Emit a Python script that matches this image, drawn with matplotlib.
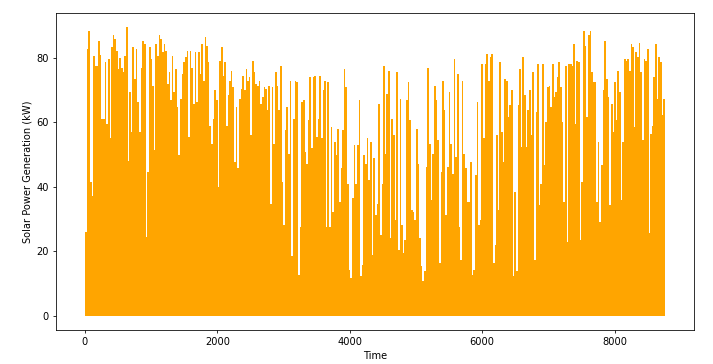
import numpy as np
import matplotlib
matplotlib.use('Agg')
import matplotlib.pyplot as plt

# daily peak output (kW), in order through the year
peaks_q1a = [26, 82.8, 88.5, 41.5, 37, 80.7, 77.6, 77.6, 85.4, 81,
             61, 61, 78.7, 59.6, 79.7, 55, 83.3, 87, 86, 82.3,
             76.6, 80, 77, 75.6, 80.7, 89.5, 48, 69.4, 57, 83.3,
             73.5, 82.8, 66.3, 57, 77, 85.4, 84.3, 24.5, 44.6, 83.3,
             79.7, 71.4, 51.3, 84.3, 80.7, 87, 86, 81.8, 84.3, 82.3,
             72, 75.6, 66.8, 80.7, 69.4, 76.6, 64.7, 49.8, 67.3]
peaks_q1b = [75, 78.7, 80.2, 82.3, 55.5, 82.3, 77, 65.8, 81.8, 66.3,
             81.8, 75, 84.3, 73, 86.4, 83.8, 78.7, 59, 53.4, 61,
             70, 66.8, 40, 79.2, 83.3, 74.5, 78.7, 59, 68.4, 73,
             76, 71, 47.7, 64.7, 45.7, 67.3, 70.4, 74.5, 70, 76.6,
             73, 74, 56, 79.2, 75.6, 72, 71.4, 73, 65.8, 67.8,
             71, 70.4, 63.7, 71.4, 34.8, 71, 53.4, 75.6]
peaks_q2 = [71.4, 63.7, 77.6, 41.5, 28, 57.5, 64.7, 50.3, 73,
            18.4, 61, 73, 72.5, 12.7, 27.6, 66.3, 66.8, 50.8, 47.2,
            60.6, 74, 51.9, 74, 74.5, 55.5, 61, 74.5, 55, 70,
            73, 27.6, 72.5, 27.6, 58.6, 32.3, 54, 49.8, 58, 35.4,
            45.7, 57.5, 76.6, 71, 41, 14.2, 11.6, 36.4, 52.9, 41,
            52.9, 66.8, 12.2, 15.8, 49.8, 47.2, 55, 42, 54, 18.9]
peaks_q3 = [48.8, 31.2, 34.8, 65.8, 25, 41, 77.6, 50.3, 68.9, 76,
            24, 61, 56, 29.7, 75.6, 20.4, 67.3, 28, 19.4, 23.5,
            66.8, 72.5, 60.6, 32.8, 32.3, 29.7, 58, 47.2, 24, 15.3,
            10.6, 13.7, 46.2, 77, 53.4, 35.9, 50.3, 71.4, 66.8, 54.4,
            16.3, 44.6, 73, 63.7, 31.2, 46.2, 69.4, 53.4, 44.1, 79.7,
            49.3, 75, 27.6, 17.3, 73, 50.3, 45.7, 35.4, 35.4]
peaks_q4a = [47.7, 12.7, 14.2, 43.6, 66.3, 28, 29.7, 78.1, 55, 78.1,
             81.2, 73, 80.2, 81.2, 16.3, 22, 56, 32.8, 78.7, 57,
             47.7, 73.5, 73, 61.6, 65.3, 70, 12.2, 38.5, 13.7, 65.3,
             76.6, 52.4, 80.2, 68.4, 52.4, 63.7, 70, 56, 75.6, 17.3,
             63.2, 78.1, 34.3, 41, 78.1, 46.7, 60.1, 71, 71.4, 64.7,
             78.1, 67.8, 69.4, 74, 78.7, 71, 60.1, 35.4, 77.6, 23, 78.1]
peaks_q4b = [78.1, 77.6, 84.3, 59.6, 79.2, 78.7, 23.5, 41.5, 88.5, 83.8,
             61.6, 87, 88.5, 75.6, 72.5, 72.5, 35.4, 54, 29.2, 46.7,
             70, 85.4, 73.5, 67.8, 34.3, 65.8, 57, 72.5, 60.6, 76,
             69.4, 35.9, 54, 79.7, 79.2, 79.7, 76, 84.3, 83.3, 58.6,
             81.8, 80.2, 84.8, 75.6, 54.4, 79.7, 79.2, 82.8, 25.6, 56.5,
             59, 74, 84.3, 67.3, 80.2, 78.7, 62.2, 67.3]

peaks = np.array(peaks_q1a + peaks_q1b + peaks_q2 + peaks_q3 + peaks_q4a + peaks_q4b)
hours_in_year = 8760

fig = plt.figure(figsize=(713 / 71.3, 364 / 71.3), dpi=71.3)
ax = fig.add_axes([0.0785, 0.0934, 0.8948, 0.8709])

edges = np.linspace(0, hours_in_year, len(peaks) + 1)
ax.stairs(peaks, edges, fill=True, color='orange', baseline=0)
ax.use_sticky_edges = False
ax.margins(0.05)

ax.set_xlabel('Time')
ax.set_ylabel('Solar Power Generation (kW)')

fig.savefig('out.png', dpi=71.3)
